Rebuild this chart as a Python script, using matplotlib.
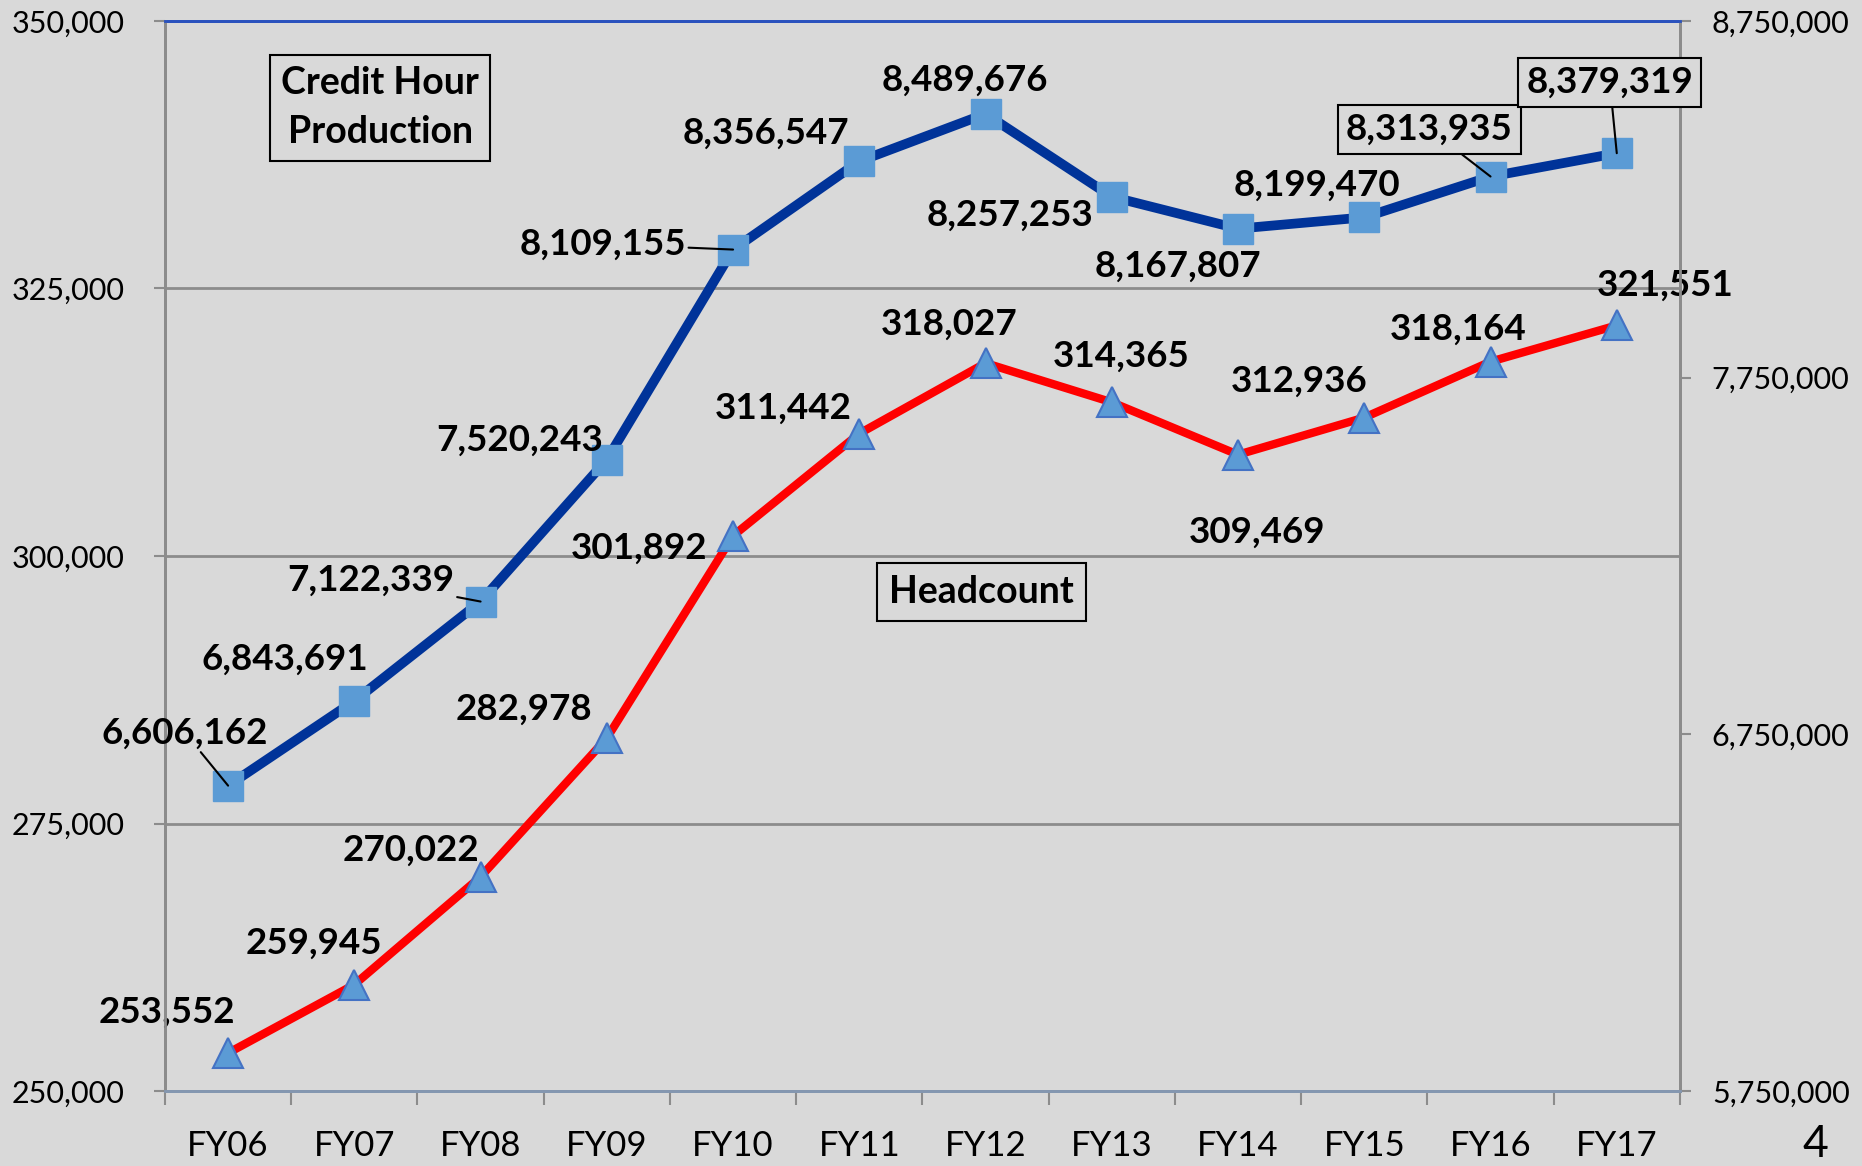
import numpy as np
import matplotlib
matplotlib.use("Agg")
from matplotlib import pyplot as plt

plt.rcParams['font.family'] = ['Lato', 'DejaVu Sans']

# data
years = ['FY06', 'FY07', 'FY08', 'FY09', 'FY10', 'FY11',
         'FY12', 'FY13', 'FY14', 'FY15', 'FY16', 'FY17']
headcount = [253552, 259945, 270022, 282978, 301892, 311442,
             318027, 314365, 309469, 312936, 318164, 321551]
credit_hours = [6606162, 6843691, 7122339, 7520243, 8109155, 8356547,
                8489676, 8257253, 8167807, 8199470, 8313935, 8379319]

# label offsets (points) from each marker
ch_off = [(-31, 38), (-50, 30), (-79, 15), (-63, 14), (-94, 4), (-67, 20),
          (-15, 24), (-73, -13), (-43, -27), (-34, 23), (-44, 34), (-5, 51)]
ch_leader = [0, 2, 4, 10, 11]
ch_boxed = [10, 11]
hc_off = [(-44, 29), (-29, 30), (-50, 19), (-60, 21), (-68, -9), (-55, 18),
          (-26, 28), (7, 33), (14, -56), (-47, 26), (-23, 23), (35, 29)]

bg = '#D9D9D9'
fig = plt.figure(figsize=(18.62, 11.66), dpi=100, facecolor=bg)
ax = fig.add_axes([0.0886, 0.0643, 0.9022 - 0.0886, 0.982 - 0.0643])
ax.set_facecolor(bg)
ax2 = ax.twinx()

x = np.arange(len(years))

# headcount on left axis
ax.plot(x, headcount, color='#FF0000', lw=6, zorder=3,
        marker='^', ms=22, mfc='#5B9BD5', mec='#4472C4', mew=1.5)
ax.set_ylim(250000, 350000)
ax.set_yticks(np.arange(250000, 350001, 25000))
ax.set_yticklabels(['{:,}'.format(v) for v in range(250000, 350001, 25000)])
ax.grid(axis='y', color='#8C8C8C', lw=2)
ax.set_axisbelow(True)

# credit hours on right axis
ax2.plot(x, credit_hours, color='#003399', lw=7, zorder=3,
         marker='s', ms=22, mfc='#5B9BD5', mec='#5B9BD5')
ax2.set_ylim(5750000, 8750000)
r_ticks = np.arange(5750000, 8750001, 1000000)
ax2.set_yticks(r_ticks)
ax2.set_yticklabels(['{:,}'.format(v) for v in r_ticks])

ax.set_xlim(-0.5, len(years) - 0.5)
ax.set_xticks(np.arange(-0.5, len(years), 1))
ax.set_xticklabels([])
ax.set_xticks(x, minor=True)
ax.set_xticklabels(years, minor=True, fontsize=25)
ax.tick_params(axis='x', which='major', length=10, width=1.5, color='#8C8C8C')
ax.tick_params(axis='x', which='minor', length=0, pad=28)
ax.tick_params(axis='y', length=8, width=1.5, color='#8C8C8C', labelsize=22, pad=21)
ax2.tick_params(axis='y', length=8, width=1.5, color='#8C8C8C', labelsize=22, pad=15)

for a in (ax, ax2):
    a.spines['left'].set_color('#8C8C8C')
    a.spines['right'].set_color('#8C8C8C')
    a.spines['top'].set_color('#2A52BE')
    a.spines['bottom'].set_color('#8497B0')
    for s in a.spines.values():
        s.set_linewidth(2)

# data labels
for i, v in enumerate(credit_hours):
    kw = dict(textcoords='offset points', xytext=ch_off[i], ha='center', va='center',
              fontsize=26.5, fontweight='bold', zorder=5)
    if i in ch_leader:
        kw['arrowprops'] = dict(arrowstyle='-', color='black', lw=1.5, shrinkA=0, shrinkB=0)
    if i in ch_boxed:
        kw['bbox'] = dict(boxstyle='square,pad=0.22', fc=bg, ec='black', lw=1.5)
    ax2.annotate('{:,}'.format(v), (x[i], v), **kw)

for i, v in enumerate(headcount):
    ax.annotate('{:,}'.format(v), (x[i], v), textcoords='offset points',
                xytext=hc_off[i], ha='center', va='center',
                fontsize=26.5, fontweight='bold', zorder=5)

ax.text(0.142, 0.919, 'Credit Hour\nProduction', transform=ax.transAxes,
        ha='center', va='center', fontsize=27, fontweight='bold', linespacing=1.55,
        bbox=dict(boxstyle='square,pad=0.3', fc=bg, ec='black', lw=1.5), zorder=6)
ax.text(0.539, 0.466, 'Headcount', transform=ax.transAxes,
        ha='center', va='center', fontsize=27, fontweight='bold',
        bbox=dict(boxstyle='square,pad=0.32', fc=bg, ec='black', lw=1.5), zorder=6)

fig.text(0.975, 0.001, '4', ha='center', va='bottom', fontsize=32)

fig.savefig('out.png', dpi=100, facecolor=bg)
